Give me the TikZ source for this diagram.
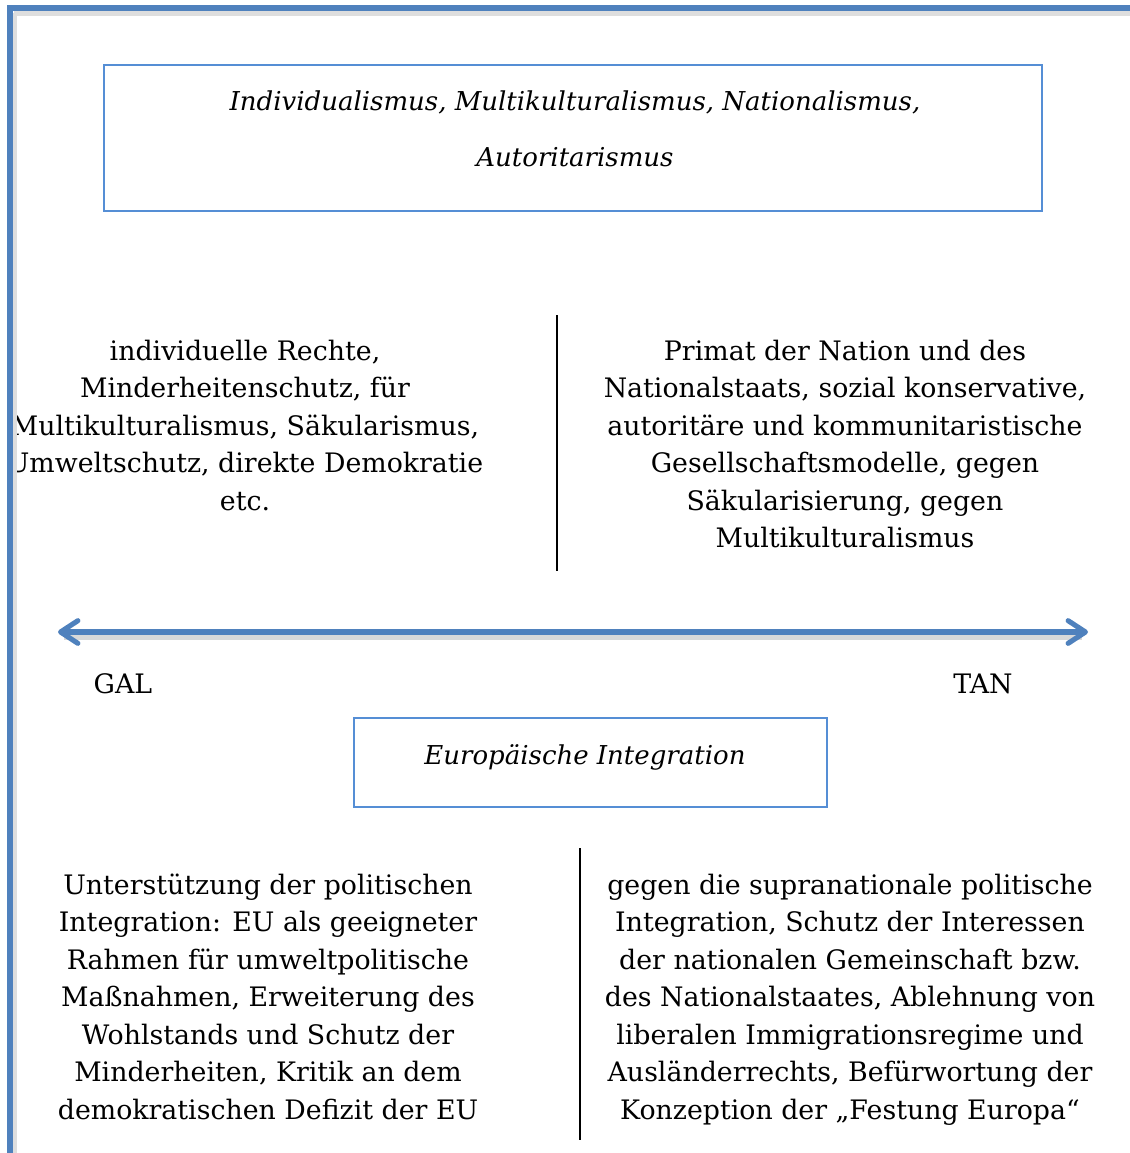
\documentclass[tikz,border=0pt]{standalone}
\usepackage{fontspec}
\setmainfont{DejaVu Serif}
\usetikzlibrary{arrows.meta}
\definecolor{frameblue}{HTML}{4F81BD}
\definecolor{boxblue}{HTML}{558ED5}
\tikzset{
  txt/.style={align=center, anchor=base, inner sep=0pt, font=\fontsize{20.1}{28.1}\selectfont},
  itxt/.style={align=center, anchor=base, inner sep=0pt, font=\fontsize{19.5}{42}\selectfont\itshape},
  bluebox/.style={draw=boxblue, line width=1.6pt},
  divider/.style={draw=black, line width=1pt},
  axis/.style={draw=frameblue, line width=3.8pt, {Straight Barb[length=13pt,width=17pt,round]}-{Straight Barb[length=13pt,width=17pt,round]}},
  shadowline/.style={draw=black!15, line width=4pt},
}
\begin{document}
\begin{tikzpicture}[x=0.75pt,y=-0.75pt]
\useasboundingbox (0,0) rectangle (1130,1153);
\fill[white] (0,0) rectangle (1130,1153);
% top box
\draw[bluebox] (104,65) rectangle (1042,211);
\node[itxt] (toptext) at (575,166) {Individualismus, Multikulturalismus, Nationalismus,\\Autoritarismus};
% upper texts
\node[txt] (gal1) at (245,510) {individuelle Rechte,\\Minderheitenschutz, für\\Multikulturalismus, Säkularismus,\\Umweltschutz, direkte Demokratie\\etc.};
\node[txt] (tan1) at (845,547.5) {Primat der Nation und des\\Nationalstaats, sozial konservative,\\autoritäre und kommunitaristische\\Gesellschaftsmodelle, gegen\\Säkularisierung, gegen\\Multikulturalismus};
\coordinate (d1a) at (557,315);
\coordinate (d1b) at (557,571);
\draw[divider] (d1a) -- (d1b);
% axis
\coordinate (al) at (58,632);
\coordinate (ar) at (1088,632);
\draw[shadowline] (64,637) -- (1082,637);
\draw[axis] (al) -- (ar);
\node[txt] (gal) at (123,693) {GAL};
\node[txt] (tan) at (983,693) {TAN};
% EU box
\draw[bluebox] (354,718) rectangle (827,807);
\node[itxt] (eu) at (585,764) {Europäische Integration};
% lower texts
\node[txt] (gal2) at (268,1119) {Unterstützung der politischen\\Integration: EU als geeigneter\\Rahmen für umweltpolitische\\Maßnahmen, Erweiterung des\\Wohlstands und Schutz der\\Minderheiten, Kritik an dem\\demokratischen Defizit der EU};
\node[txt] (tan2) at (850,1119) {gegen die supranationale politische\\Integration, Schutz der Interessen\\der nationalen Gemeinschaft bzw.\\des Nationalstaates, Ablehnung von\\liberalen Immigrationsregime und\\Ausländerrechts, Befürwortung der\\Konzeption der „Festung Europa“};
\coordinate (d2a) at (580,848);
\coordinate (d2b) at (580,1140);
\draw[divider] (d2a) -- (d2b);
% frame
\fill[white] (0,0) rectangle (8,1153);
\draw[black!13, line width=4pt] (14,13) -- (1130,13);
\draw[black!13, line width=4pt] (14,13) -- (14,1153);
\draw[frameblue, line width=3.8pt] (10,1153) -- (10,8) -- (1130,8);
\end{tikzpicture}
\end{document}
